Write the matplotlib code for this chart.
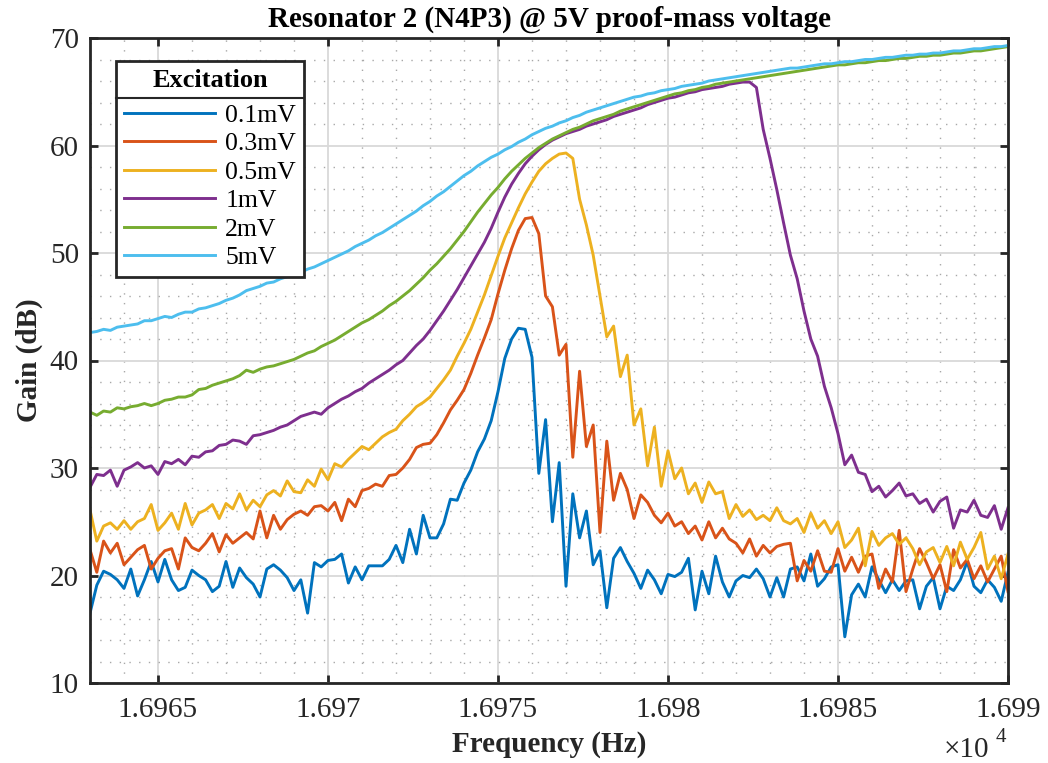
import numpy as np
import matplotlib
matplotlib.use("Agg")
import matplotlib.pyplot as plt
from matplotlib.ticker import MultipleLocator
from matplotlib.lines import Line2D

plt.rcParams['font.family'] = ['Liberation Serif', 'DejaVu Serif']

# ---------------- data ----------------
freq = np.linspace(16963, 16990, 136)  # Hz, 0.2 Hz sweep step

gain_0p1mV = [
    16.5, 19.1, 20.4, 20.1, 19.6, 18.8, 20.6, 18.1, 19.6, 21.3,
    19.4, 21.5, 19.6, 18.6, 18.9, 20.5, 20.0, 19.6, 18.5, 19.0,
    21.3, 18.9, 20.7, 19.8, 19.2, 18.0, 20.6, 21.0, 20.5, 19.8,
    18.6, 19.6, 16.5, 21.2, 20.8, 21.4, 21.5, 22.0, 19.3, 20.8,
    19.6, 20.9, 20.9, 20.9, 21.5, 22.8, 21.2, 24.3, 22.0, 25.6,
    23.5, 23.5, 24.8, 27.1, 27.0, 28.6, 29.8, 31.5, 32.7, 34.4,
    37.1, 40.2, 42.0, 43.0, 42.9, 40.3, 29.5, 34.5, 25.0, 30.5,
    19.0, 27.6, 23.5, 26.0, 21.0, 22.3, 17.0, 21.6, 22.6, 21.3,
    20.2, 18.8, 20.5, 19.6, 18.3, 20.1, 19.9, 20.3, 21.6, 16.8,
    20.4, 18.3, 21.8, 19.4, 18.0, 19.5, 20.0, 19.8, 20.6, 19.7,
    18.0, 19.8, 18.0, 20.6, 20.8, 19.5, 22.0, 19.0, 19.7, 20.8,
    21.0, 14.3, 18.2, 19.2, 18.0, 20.8, 19.6, 18.4, 19.6, 18.6,
    19.5, 19.6, 16.9, 19.0, 19.8, 16.9, 19.0, 18.6, 19.6, 21.3,
    19.0, 18.4, 19.6, 18.9, 17.6, 20.3]

gain_0p3mV = [
    22.4, 20.3, 23.2, 22.1, 23.0, 21.0, 21.7, 22.4, 22.8, 20.6,
    21.6, 22.3, 22.5, 20.6, 23.5, 22.6, 22.3, 23.0, 23.9, 22.2,
    23.8, 23.0, 23.5, 24.0, 23.4, 26.0, 23.5, 25.6, 24.3, 25.2,
    25.7, 26.0, 25.6, 26.4, 26.5, 26.0, 26.8, 25.1, 27.1, 26.4,
    27.9, 28.1, 28.5, 28.3, 29.3, 29.4, 30.0, 30.8, 31.9, 32.2,
    32.3, 33.1, 34.2, 35.4, 36.3, 37.3, 38.8, 40.5, 42.1, 43.8,
    46.2, 48.4, 50.4, 52.1, 53.2, 53.3, 51.8, 46.0, 45.0, 40.5,
    41.5, 31.0, 39.0, 32.0, 34.0, 24.0, 32.5, 27.0, 29.5, 28.0,
    25.3, 27.5, 26.8, 25.6, 24.9, 25.8, 24.6, 25.0, 23.9, 24.6,
    23.3, 25.0, 23.5, 24.4, 23.4, 23.0, 22.1, 23.4, 21.8, 22.8,
    22.1, 22.7, 22.9, 23.0, 19.5, 21.4, 20.4, 22.3, 20.4, 20.3,
    22.5, 20.4, 21.7, 20.3, 21.8, 22.0, 18.8, 20.6, 19.4, 24.2,
    18.5, 20.6, 22.5, 21.2, 19.7, 21.0, 18.5, 22.4, 20.7, 21.5,
    19.7, 20.9, 19.4, 20.6, 21.8, 18.5]

gain_0p5mV = [
    26.1, 23.2, 24.6, 24.9, 24.3, 25.1, 24.3, 25.0, 25.3, 26.6,
    24.2, 24.9, 25.8, 24.3, 26.7, 24.7, 25.8, 26.1, 26.6, 25.3,
    26.7, 26.2, 27.6, 26.1, 27.0, 26.4, 27.5, 27.9, 27.4, 28.8,
    27.8, 27.7, 28.9, 28.3, 29.9, 28.9, 30.4, 30.1, 30.8, 31.4,
    32.0, 31.7, 32.3, 32.9, 33.3, 33.6, 34.4, 35.0, 35.7, 36.1,
    36.6, 37.4, 38.2, 39.1, 40.4, 41.6, 42.9, 44.5, 46.1, 47.9,
    49.7, 51.4, 52.8, 54.2, 55.5, 56.6, 57.6, 58.3, 58.8, 59.2,
    59.3, 58.8, 55.0, 52.6, 49.8, 46.0, 42.2, 43.2, 38.5, 40.5,
    34.0, 35.5, 30.2, 33.8, 28.3, 31.6, 29.0, 30.0, 27.6, 28.6,
    26.8, 28.7, 27.6, 27.8, 25.3, 26.6, 25.5, 26.1, 25.2, 25.6,
    25.1, 26.3, 25.1, 24.8, 25.3, 24.0, 25.8, 24.4, 25.1, 23.9,
    25.0, 22.6, 23.3, 24.4, 20.9, 24.1, 22.8, 23.5, 23.9, 22.9,
    23.5, 22.5, 21.0, 22.2, 22.6, 21.2, 22.7, 20.9, 23.1, 21.5,
    22.6, 24.0, 20.6, 21.8, 19.7, 22.0]

gain_1mV = [
    28.2, 29.4, 29.3, 29.8, 28.3, 29.8, 30.1, 30.5, 30.0, 30.2,
    29.4, 30.6, 30.4, 30.8, 30.3, 31.1, 31.0, 31.5, 31.6, 32.1,
    32.2, 32.6, 32.5, 32.2, 33.0, 33.1, 33.3, 33.5, 33.8, 34.0,
    34.4, 34.8, 35.0, 35.2, 35.0, 35.6, 36.0, 36.4, 36.7, 37.1,
    37.4, 37.9, 38.3, 38.7, 39.1, 39.6, 40.0, 40.7, 41.4, 42.0,
    42.8, 43.7, 44.6, 45.6, 46.6, 47.7, 48.8, 49.9, 51.0, 52.3,
    53.8, 55.2, 56.4, 57.4, 58.3, 59.0, 59.6, 60.1, 60.5, 60.8,
    61.1, 61.3, 61.5, 61.8, 62.0, 62.2, 62.4, 62.7, 62.9, 63.1,
    63.3, 63.5, 63.8, 64.0, 64.2, 64.4, 64.5, 64.7, 64.9, 65.0,
    65.2, 65.3, 65.4, 65.5, 65.7, 65.8, 65.9, 65.9, 65.4, 61.5,
    58.8, 55.9, 52.8, 49.8, 47.6, 44.6, 42.0, 40.4, 37.6, 35.6,
    33.2, 30.3, 31.2, 29.6, 29.4, 27.8, 28.3, 27.3, 27.9, 28.6,
    27.4, 27.6, 26.7, 27.1, 25.9, 26.9, 27.3, 24.4, 26.1, 25.9,
    27.0, 25.6, 25.4, 26.5, 24.3, 26.3]

gain_2mV = [
    35.2, 34.9, 35.3, 35.2, 35.6, 35.5, 35.7, 35.8, 36.0, 35.8,
    36.0, 36.3, 36.4, 36.6, 36.6, 36.8, 37.3, 37.4, 37.7, 37.9,
    38.1, 38.3, 38.6, 39.1, 38.9, 39.2, 39.4, 39.5, 39.7, 39.9,
    40.1, 40.4, 40.7, 40.9, 41.3, 41.6, 41.9, 42.3, 42.7, 43.1,
    43.5, 43.8, 44.2, 44.6, 45.1, 45.5, 46.0, 46.5, 47.1, 47.7,
    48.4, 49.0, 49.7, 50.4, 51.2, 52.0, 52.9, 53.8, 54.6, 55.4,
    56.1, 56.9, 57.6, 58.2, 58.8, 59.3, 59.8, 60.2, 60.6, 60.9,
    61.2, 61.5, 61.7, 62.0, 62.3, 62.5, 62.7, 62.9, 63.2, 63.4,
    63.6, 63.8, 64.0, 64.2, 64.4, 64.6, 64.8, 64.9, 65.1, 65.2,
    65.4, 65.5, 65.7, 65.8, 65.9, 66.0, 66.1, 66.2, 66.3, 66.4,
    66.5, 66.6, 66.7, 66.8, 66.9, 67.0, 67.1, 67.2, 67.3, 67.4,
    67.5, 67.5, 67.6, 67.7, 67.7, 67.8, 67.9, 67.9, 68.0, 68.1,
    68.1, 68.2, 68.3, 68.3, 68.4, 68.4, 68.5, 68.6, 68.6, 68.7,
    68.8, 68.8, 68.9, 69.0, 69.1, 69.2]

gain_5mV = [
    42.6, 42.7, 42.9, 42.8, 43.1, 43.2, 43.3, 43.4, 43.7, 43.7,
    43.9, 44.1, 44.0, 44.3, 44.5, 44.5, 44.8, 44.9, 45.1, 45.3,
    45.6, 45.8, 46.1, 46.5, 46.7, 46.9, 47.2, 47.3, 47.6, 47.8,
    48.0, 48.2, 48.5, 48.7, 49.0, 49.3, 49.6, 49.9, 50.2, 50.6,
    50.9, 51.2, 51.6, 51.9, 52.3, 52.7, 53.1, 53.5, 53.9, 54.4,
    54.8, 55.3, 55.7, 56.2, 56.7, 57.2, 57.6, 58.1, 58.5, 58.9,
    59.2, 59.6, 59.9, 60.3, 60.6, 61.0, 61.3, 61.6, 61.8, 62.1,
    62.3, 62.6, 62.8, 63.1, 63.3, 63.5, 63.7, 63.9, 64.1, 64.3,
    64.5, 64.6, 64.8, 64.9, 65.1, 65.2, 65.3, 65.5, 65.6, 65.7,
    65.8, 66.0, 66.1, 66.2, 66.3, 66.4, 66.5, 66.6, 66.7, 66.8,
    66.9, 67.0, 67.1, 67.2, 67.2, 67.3, 67.4, 67.5, 67.6, 67.6,
    67.7, 67.8, 67.8, 67.9, 68.0, 68.0, 68.1, 68.2, 68.2, 68.3,
    68.4, 68.4, 68.5, 68.5, 68.6, 68.6, 68.7, 68.8, 68.8, 68.9,
    69.0, 69.0, 69.1, 69.2, 69.2, 69.3]

labels = ['0.1mV', '0.3mV', '0.5mV', '1mV', '2mV', '5mV']
series = [gain_0p1mV, gain_0p3mV, gain_0p5mV, gain_1mV, gain_2mV, gain_5mV]
colors = ['#0072BD', '#D95319', '#EDB120', '#7E2F8E', '#77AC30', '#4DBEEE']

xtick_values = [16965, 16970, 16975, 16980, 16985, 16990]
xtick_labels = ['1.6965', '1.697', '1.6975', '1.698', '1.6985', '1.699']
ytick_values = [10, 20, 30, 40, 50, 60, 70]

# ---------------- figure ----------------
W, H = 1048, 763
fig = plt.figure(figsize=(W / 100, H / 100), dpi=100)
ax = fig.add_axes([90 / W, 1 - 683 / H, 918 / W, 645 / H])

for y, lab, c in zip(series, labels, colors):
    ax.plot(freq, y, color=c, lw=2.1, label=lab, solid_joinstyle='round')

ax.set_xlim(16963, 16990)
ax.set_ylim(10, 70)
ax.set_xticks(xtick_values)
ax.set_xticklabels(xtick_labels)
ax.set_yticks(ytick_values)
ax.xaxis.set_minor_locator(MultipleLocator(1))
ax.yaxis.set_minor_locator(MultipleLocator(2))

ax.set_axisbelow(True)
ax.grid(which='major', color='#d9d9d9', lw=1.3, linestyle='-')
ax.grid(which='minor', color='#a8a8a8', lw=1.0, linestyle=(0, (1, 6)))

frame_c = '#262626'
for s in ax.spines.values():
    s.set_linewidth(2.0)
    s.set_color(frame_c)
ax.tick_params(which='major', direction='in', length=6, width=2, top=True, right=True,
               labelsize=21, color=frame_c, labelcolor=frame_c)
ax.tick_params(axis='x', which='major', pad=10)
ax.tick_params(axis='y', which='major', pad=8)
ax.tick_params(which='minor', length=0)

ax.set_xlabel('Frequency (Hz)', fontsize=21, fontweight='bold', color=frame_c, labelpad=6)
ax.set_ylabel('Gain (dB)', fontsize=21, fontweight='bold', color=frame_c, labelpad=5)
ax.set_title('Resonator 2 (N4P3) @ 5V proof-mass voltage', fontsize=21,
             fontweight='bold', color='k', pad=8)

# exponent label
fig.text(944 / W, 1 - 750 / H, '\u00d710', fontsize=21, ha='left', va='center', color=frame_c)
fig.text(996 / W, 1 - 737 / H, '4', fontsize=15, ha='left', va='center', color=frame_c)

leg_fs = 18.5
leg = ax.legend(loc='upper left', bbox_to_anchor=(116 / W, 1 - 61 / H),
                bbox_transform=fig.transFigure, borderaxespad=0,
                fontsize=leg_fs, handlelength=3.55, handletextpad=0.4,
                labelspacing=0.21, borderpad=0.3, fancybox=False,
                framealpha=1, title='Excitation',
                title_fontproperties={'weight': 'bold', 'size': 19})
leg.get_frame().set_edgecolor(frame_c)
leg.get_frame().set_linewidth(2.0)
# extra gap between the legend header and the entries
leg._legend_box.sep = 0.21 * leg_fs + 5

fig.canvas.draw()
renderer = fig.canvas.get_renderer()
fb = leg.get_frame().get_window_extent(renderer)
tb = leg.get_title().get_window_extent(renderer)
t1 = leg.get_texts()[0].get_window_extent(renderer)
ysep = 0.5 * ((tb.y0 + tb.y1) / 2 + (t1.y0 + t1.y1) / 2)
inv = fig.transFigure.inverted()
(x0, y0), (x1, y1) = inv.transform([(fb.x0, ysep), (fb.x1, ysep)])
fig.add_artist(Line2D([x0, x1], [y0, y1], transform=fig.transFigure,
                      color=frame_c, lw=1.5, zorder=10))

fig.savefig('out.png', dpi=100)
